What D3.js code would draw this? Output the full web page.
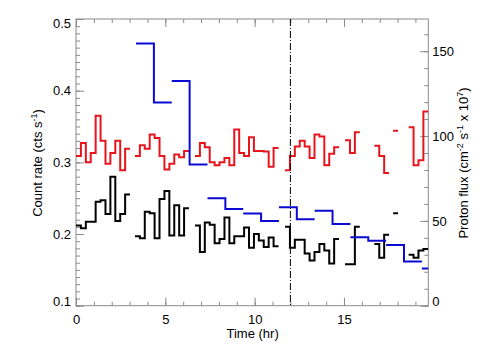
<!DOCTYPE html>
<html><head><meta charset="utf-8">
<script src="https://cdn.jsdelivr.net/npm/d3@7"></script>
<style>body{margin:0;background:#fff}svg{display:block}text{font-family:"Liberation Sans",Arial,sans-serif}</style>
</head><body><svg id="c" width="504" height="360"></svg>
<script>
// ---- data ----
const binHr = 0.275;                       // count-rate bin width (hr)
const chunkStart = [0, 3.30, 6.66, 11.70, 15.06, 16.70, 17.75, 18.62];
const redRate = [
  [0.309,0.327,0.300,0.313,0.365,0.330,0.298,0.313,0.330,0.289,0.319],
  [0.309,0.324,0.319,0.339,0.334,0.309,0.290,0.298,0.311,0.307,0.316],
  [0.309,0.327,0.321,0.300,0.296,0.300,0.306,0.296,0.346,0.313,0.309,0.335,0.316,0.316,0.315,0.294,0.320],
  [0.289,0.309,0.322,0.330,0.322,0.306,0.339,0.336,0.296,0.312,0.321],
  [0.331,0.313,0.342],
  [0.323,0.309,0.285],
  [0.344],
  [0.349,0.296,0.303,0.371]
];
const blackRate = [
  [0.212,0.208,0.217,0.217,0.245,0.247,0.228,0.280,0.218,0.228,0.255],
  [0.197,0.194,0.231,0.229,0.194,0.249,0.260,0.198,0.240,0.198,0.236],
  [0.212,0.175,0.216,0.213,0.187,0.193,0.223,0.187,0.197,0.197,0.209,0.181,0.200,0.191,0.182,0.195,0.183],
  [0.210,0.181,0.192,0.192,0.173,0.163,0.175,0.186,0.177,0.159,0.193],
  [0.158,0.158,0.210],
  [0.186,0.167,0.199],
  [0.229],
  [0.171,0.167,0.177,0.179]
];
const protonBinHr = 1.0;
const protonStart = [3.36, 5.36, 7.36, 9.36, 11.36, 13.36, 15.36, 17.36, 19.36];
const protonFlux = [[154.6,119.8],[132.4,83.3],[63.3,57.0],[54.4,49.9],[58.0,51.0],[56.0,48.1],[40.3,38.3],[35.8,26.0],[22.0]];
const xMajor = [0,5,10,15];
const yLeftMajor = [0.1,0.2,0.3,0.4,0.5];
const yRightMajor = [0,50,100,150];
const markerTime = 12.0;

// ---- layout ----
const L=76, R=428.3, T=19, B=305.7;
const x = d3.scaleLinear().domain([0,19.72]).range([L,R]);
const yL = d3.scaleLinear().domain([0.1,0.5]).range([B,T]);
const yR = d3.scaleLinear().domain([0,169]).range([B,T]);
const svg = d3.select("#c");
const axisCol = "#8a8a8a";

svg.append("defs").append("clipPath").attr("id","clip")
  .append("rect").attr("x",L).attr("y",T).attr("width",R-L).attr("height",B-T);

function styleAxis(g){
  g.select(".domain").remove();
  g.selectAll("line").attr("stroke",axisCol);
  g.selectAll("text").attr("fill","#000").style("font-size","13px").style("font-family",'"Liberation Sans",Arial,sans-serif');
}
// minor ticks
svg.append("g").attr("transform",`translate(0,${B})`).call(d3.axisBottom(x).tickValues(d3.range(0,20,1)).tickSize(-4).tickFormat("")).call(styleAxis);
svg.append("g").attr("transform",`translate(0,${T})`).call(d3.axisTop(x).tickValues(d3.range(0,20,1)).tickSize(-4).tickFormat("")).call(styleAxis);
svg.append("g").attr("transform",`translate(${L},0)`).call(d3.axisLeft(yL).tickValues(d3.range(10,51).map(d=>d/100)).tickSize(-4).tickFormat("")).call(styleAxis);
svg.append("g").attr("transform",`translate(${R},0)`).call(d3.axisRight(yR).tickValues(d3.range(0,170,10)).tickSize(-4).tickFormat("")).call(styleAxis);
// major ticks + labels
svg.append("g").attr("transform",`translate(0,${B})`).call(d3.axisBottom(x).tickValues(xMajor).tickSize(-8).tickPadding(9).tickFormat(d3.format("d"))).call(styleAxis);
svg.append("g").attr("transform",`translate(0,${T})`).call(d3.axisTop(x).tickValues(xMajor).tickSize(-8).tickFormat("")).call(styleAxis);
const gl = svg.append("g").attr("transform",`translate(${L},0)`).call(d3.axisLeft(yL).tickValues(yLeftMajor).tickSize(-8).tickPadding(5).tickFormat(d3.format(".1f"))).call(styleAxis);
gl.selectAll(".tick").filter(d=>d===0.5).select("text").attr("y",4);
gl.selectAll(".tick").filter(d=>d===0.1).select("text").attr("y",-4);
const gr = svg.append("g").attr("transform",`translate(${R},0)`).call(d3.axisRight(yR).tickValues(yRightMajor).tickSize(-8).tickPadding(4).tickFormat(d3.format("d"))).call(styleAxis);
gr.selectAll(".tick").filter(d=>d===0).select("text").attr("y",-4);

// frame
svg.append("rect").attr("x",L).attr("y",T).attr("width",R-L).attr("height",B-T)
  .attr("fill","none").attr("stroke",axisCol).attr("stroke-width",1);

// series
const plot = svg.append("g").attr("clip-path","url(#clip)");
const line = d3.line().curve(d3.curveStepAfter);
function stepPts(start, w, vals, ys){
  const p = vals.map((v,i)=>[x(start+i*w), ys(v)]);
  p.push([x(start+vals.length*w), ys(vals[vals.length-1])]);
  return p;
}
chunkStart.forEach((s,i)=>{
  plot.append("path").attr("d",line(stepPts(s,binHr,redRate[i],yL)))
    .attr("fill","none").attr("stroke","#e8141c").attr("stroke-width",2);
  plot.append("path").attr("d",line(stepPts(s,binHr,blackRate[i],yL)))
    .attr("fill","none").attr("stroke","#000").attr("stroke-width",2);
});
protonStart.forEach((s,i)=>{
  plot.append("path").attr("d",line(stepPts(s,protonBinHr,protonFlux[i],yR)))
    .attr("fill","none").attr("stroke","#0a0ad2").attr("stroke-width",2);
});

// marker line
svg.append("line").attr("x1",x(markerTime)).attr("x2",x(markerTime)).attr("y1",T).attr("y2",B)
  .attr("stroke","#000").attr("stroke-width",1).attr("stroke-dasharray","7,2,1,2");

// titles
svg.append("text").attr("x",(L+R)/2+0.5).attr("y",338).attr("text-anchor","middle").style("font-size","13px").text("Time (hr)");
const tl = svg.append("text").attr("transform","translate(42,163) rotate(-90)").attr("text-anchor","middle").style("font-size","13px");
tl.append("tspan").text("Count rate (cts  s");
tl.append("tspan").attr("dy",-5).style("font-size","9px").text("-1");
tl.append("tspan").attr("dy",5).text(")");
const tr = svg.append("text").attr("transform","translate(468,163) rotate(-90)").attr("text-anchor","middle").style("font-size","13px");
tr.append("tspan").text("Proton flux (cm");
tr.append("tspan").attr("dy",-5).style("font-size","9px").text("-2");
tr.append("tspan").attr("dy",5).text(" s");
tr.append("tspan").attr("dy",-5).style("font-size","9px").text("-1");
tr.append("tspan").attr("dy",5).text(" x 10");
tr.append("tspan").attr("dy",-5).style("font-size","9px").text("7");
tr.append("tspan").attr("dy",5).text(")");
</script></body></html>
